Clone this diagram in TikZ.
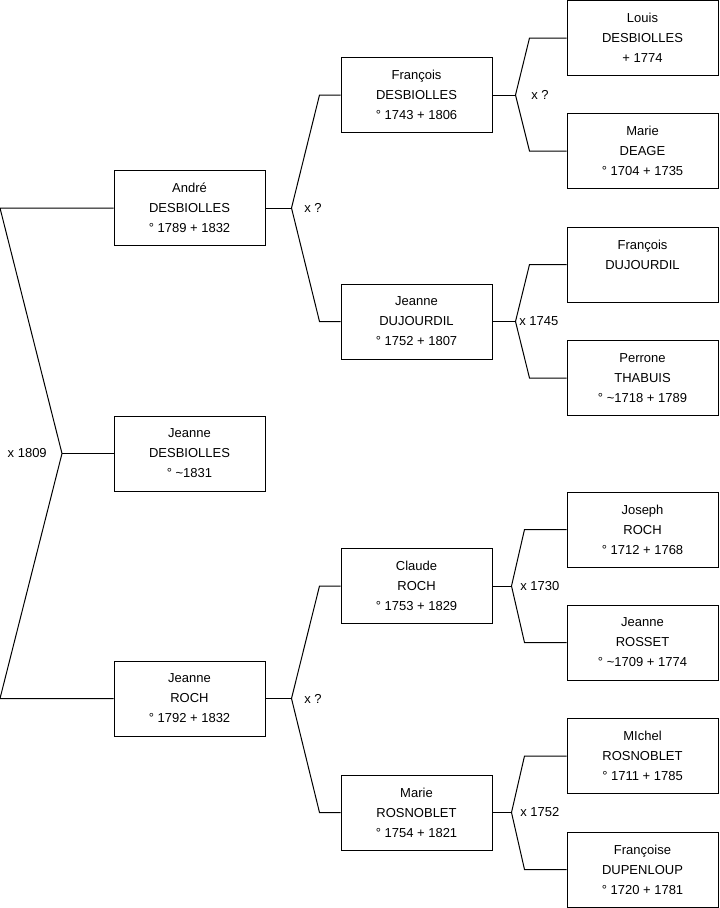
\documentclass[tikz,border=0pt]{standalone}
\usepackage{fontspec}
\setmainfont{Liberation Sans}
\tikzset{
  person/.style={draw, line width=0.75pt, minimum width=113.25pt, minimum height=56.25pt,
    inner sep=0pt, align=center, font=\fontsize{9.75}{15}\selectfont},
  link/.style={line width=0.75pt},
  union/.style={anchor=west, inner sep=0pt, font=\fontsize{9.75}{15}\selectfont}
}
\begin{document}
\begin{tikzpicture}[x=0.75pt,y=-0.75pt]
\useasboundingbox (0,0) rectangle (719,908);
% generation 1
\node[person] (andre) at (189.5,208) {André\\DESBIOLLES\\° 1789 + 1832};
\node[person] (jdes) at (189.5,453.5) {Jeanne\\DESBIOLLES\\° \textasciitilde1831};
\node[person] (jroch) at (189.5,698.5) {Jeanne\\ROCH\\° 1792 + 1832};
% generation 2
\node[person] (fdes) at (416.5,95) {François\\DESBIOLLES\\° 1743 + 1806};
\node[person] (jduj) at (416.5,321.5) {Jeanne\\DUJOURDIL\\° 1752 + 1807};
\node[person] (croch) at (416.5,586) {Claude\\ROCH\\° 1753 + 1829};
\node[person] (mros) at (416.5,812.5) {Marie\\ROSNOBLET\\° 1754 + 1821};
% generation 3
\node[person] (ldes) at (642.5,38) {Louis\\DESBIOLLES\\+ 1774};
\node[person] (mdea) at (642.5,151) {Marie\\DEAGE\\° 1704 + 1735};
\node[person] (fduj) at (642.5,264.5) {François\\DUJOURDIL\\\mbox{}};
\node[person] (ptha) at (642.5,378) {Perrone\\THABUIS\\° \textasciitilde1718 + 1789};
\node[person] (jroc) at (642.5,529.5) {Joseph\\ROCH\\° 1712 + 1768};
\node[person] (jros) at (642.5,642.5) {Jeanne\\ROSSET\\° \textasciitilde1709 + 1774};
\node[person] (mrosn) at (642.5,756) {MIchel\\ROSNOBLET\\° 1711 + 1785};
\node[person] (fdup) at (642.5,869.5) {Françoise\\DUPENLOUP\\° 1720 + 1781};
% links
\coordinate (c0) at (62,453.5);
\draw[link] (andre.west) -- (0,208) -- (c0) -- (0,698.5) -- (jroch.west);
\draw[link] (jdes.west) -- (c0);
\foreach \up/\one/\two/\dl/\dr in {andre/fdes/jduj/26/21, jroch/croch/mros/26/21,
  fdes/ldes/mdea/23/37, jduj/fduj/ptha/23/37, croch/jroc/jros/19/42, mros/mrosn/fdup/19/42}
{
  \draw[link] (\up.east) -- ++(\dl,0) coordinate (c-\up);
  \draw[link] (\one.west) -- ++(-\dr,0) -- (c-\up);
  \draw[link] (\two.west) -- ++(-\dr,0) -- (c-\up);
}
% marriages
\node[union, anchor=east] (m0) at (47,453.5) {x 1809};
\node[union] (m1) at (304,208) {x ?};
\node[union] (m2) at (304,698.5) {x ?};
\node[union] (m3) at (531,95) {x ?};
\node[union] (m4) at (519,321.5) {x 1745};
\node[union] (m5) at (520,586) {x 1730};
\node[union] (m6) at (520,812.5) {x 1752};
\end{tikzpicture}
\end{document}
